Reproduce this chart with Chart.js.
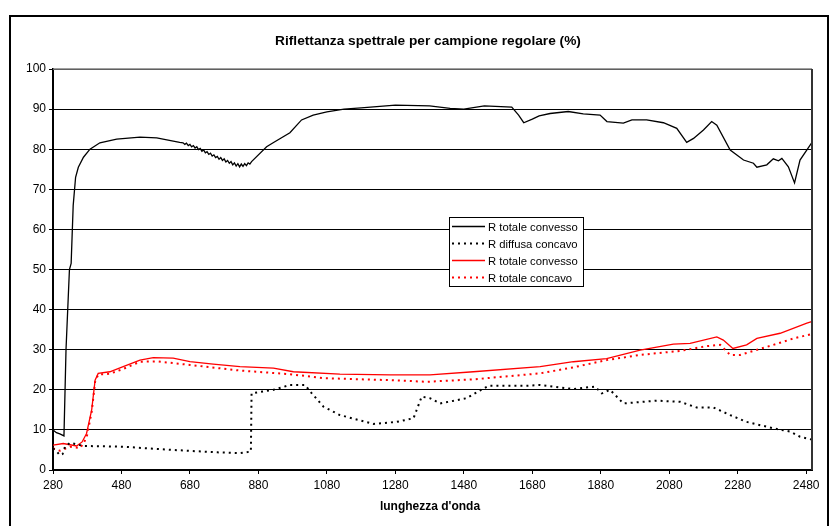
<!DOCTYPE html>
<html>
<head>
<meta charset="utf-8">
<script src="https://cdn.jsdelivr.net/npm/chart.js@4.4.1/dist/chart.umd.min.js"></script>
<style>
  html, body { margin: 0; padding: 0; background: #fff; }
  #wrap { width: 832px; height: 526px; }
</style>
</head>
<body>
<div id="wrap"><canvas id="chart" width="832" height="526"></canvas></div>
<script>
// valori (lunghezza d'onda in nm, riflettanza in %)
const xTicks = [280, 480, 680, 880, 1080, 1280, 1480, 1680, 1880, 2080, 2280, 2480];

const totConvBlackX = [280, 290, 300, 312, 318, 328, 333, 339, 346, 354, 369, 388, 417, 466, 534, 583, 620, 650,
  660, 665, 670, 675, 680, 685, 690, 695, 700, 705, 710, 715, 720, 725, 730, 735, 740, 745, 750, 755, 760, 765,
  770, 775, 780, 785, 790, 795, 800, 805, 810, 815, 820, 825, 830, 835, 840, 845, 850, 855, 860,
  904, 923, 972, 1006, 1040, 1080, 1130, 1180, 1280, 1380, 1440, 1480, 1540, 1620, 1640, 1655, 1680, 1700,
  1732, 1785, 1829, 1878, 1898, 1946, 1971, 2014, 2063, 2102, 2131, 2151, 2180, 2204, 2219, 2258, 2297,
  2326, 2336, 2365, 2384, 2399, 2409, 2428, 2446, 2462, 2496];
const totConvBlackY = [10, 9.3, 9, 8.5, 30, 50, 51.5, 66, 73, 75.5, 78, 80, 81.6, 82.5, 83, 82.8, 82.2, 81.7,
  81.6, 81.2, 81.5, 80.9, 81.2, 80.6, 80.9, 80.3, 80.6, 79.9, 80.2, 79.5, 79.8, 79.1, 79.4, 78.7, 79.0, 78.3, 78.6, 77.9, 78.2, 77.5,
  77.9, 77.2, 77.6, 76.8, 77.2, 76.5, 76.9, 76.1, 76.6, 75.8, 76.4, 75.6, 76.3, 75.7, 76.4, 75.9, 76.6, 76.3, 76.9,
  80.6, 81.6, 84.1, 87.3, 88.5, 89.3, 90, 90.3, 91, 90.8, 90.2, 90, 90.8, 90.5, 88.5, 86.6, 87.5, 88.3,
  88.9, 89.4, 88.8, 88.5, 86.9, 86.5, 87.3, 87.3, 86.6, 85.2, 81.7, 82.7, 84.8, 86.9, 86, 79.8, 77.3,
  76.5, 75.5, 76.1, 77.6, 77.1, 77.7, 75.6, 71.6, 77.3, 81.6];

const diffConcX = [280, 292, 300, 308, 315, 330, 369, 485, 631, 760, 826, 858, 860, 924, 972, 1016, 1036, 1070,
  1118, 1216, 1284, 1333, 1357, 1381, 1411, 1488, 1527, 1552, 1664, 1703, 1800, 1863, 1883, 1907, 1946,
  2044, 2112, 2160, 2209, 2258, 2306, 2384, 2433, 2462, 2496];
const diffConcY = [5.4, 4.5, 3.7, 4, 5.8, 6.8, 6, 5.8, 5, 4.4, 4.2, 4.6, 19.1, 20, 21.2, 21.2, 19.1, 15.8,
  13.7, 11.5, 12, 12.9, 18.3, 17.9, 16.6, 17.9, 19.8, 21, 21, 21.2, 20.2, 20.8, 19.1, 20, 16.6,
  17.3, 17, 15.6, 15.6, 13.7, 12, 10.4, 9.6, 8.3, 7.6];

const totConvRedX = [280, 310, 349, 365, 378, 393, 403, 412, 446, 485, 534, 573, 631, 680, 748, 826, 924, 982,
  1118, 1265, 1381, 1508, 1703, 1800, 1897, 1995, 2092, 2141, 2219, 2238, 2266, 2306, 2336, 2404, 2482, 2496];
const totConvRedY = [6.2, 6.6, 6, 7, 9.1, 15, 22.4, 24.1, 24.5, 25.8, 27.4, 28, 27.9, 27, 26.4, 25.8, 25.4, 24.5,
  23.9, 23.7, 23.7, 24.5, 25.8, 27, 27.8, 29.9, 31.4, 31.6, 33.2, 32.4, 30.3, 31.2, 32.8, 34.1, 36.6, 37];

const totConcRedX = [280, 300, 330, 360, 378, 393, 403, 412, 446, 485, 534, 583, 680, 826, 972, 1070, 1265, 1372,
  1508, 1703, 1800, 1897, 1995, 2112, 2190, 2229, 2258, 2287, 2384, 2443, 2496];
const totConcRedY = [5.4, 4.8, 5.8, 5.5, 8, 14.5, 22, 23.8, 24, 25.2, 27, 27.1, 26.2, 24.8, 23.9, 22.9, 22.4, 22,
  22.6, 24.1, 25.6, 27.4, 28.7, 29.7, 30.9, 31.2, 28.7, 28.7, 31.2, 32.8, 33.9];

function pts(xs, ys) {
  return xs.map((x, i) => ({ x: x, y: ys[i] }));
}

const FONT = 'Arial, "Liberation Sans", sans-serif';

const framePlugin = {
  id: 'frame',
  beforeDraw(chart) {
    const ctx = chart.ctx;
    ctx.save();
    ctx.fillStyle = '#fff';
    ctx.fillRect(0, 0, chart.width, chart.height);
    ctx.strokeStyle = '#000';
    ctx.lineWidth = 2;
    ctx.strokeRect(10, 16, 818, 530);
    ctx.restore();
  },
  afterDraw(chart) {
    const ctx = chart.ctx;
    const a = chart.chartArea;
    ctx.save();
    // bordo area del grafico
    ctx.strokeStyle = '#808080';
    ctx.lineWidth = 1.5;
    ctx.beginPath();
    ctx.moveTo(a.left, a.top);
    ctx.lineTo(a.right, a.top);
    ctx.stroke();
    ctx.strokeStyle = '#333';
    ctx.lineWidth = 2;
    ctx.beginPath();
    ctx.moveTo(a.right, a.top);
    ctx.lineTo(a.right, a.bottom);
    ctx.stroke();

    // titoli
    ctx.fillStyle = '#000';
    ctx.textAlign = 'center';
    ctx.textBaseline = 'middle';
    ctx.font = 'bold 13.7px ' + FONT;
    ctx.fillText('Riflettanza spettrale per campione regolare (%)', 428, 41);
    ctx.font = 'bold 12px ' + FONT;
    ctx.fillText("lunghezza d'onda", 430, 507);

    // legenda
    const lx = 449, ly = 217, lw = 134, lh = 69;
    ctx.fillStyle = '#fff';
    ctx.fillRect(lx, ly, lw, lh);
    ctx.strokeStyle = '#000';
    ctx.lineWidth = 1;
    ctx.strokeRect(lx + 0.5, ly + 0.5, lw, lh);
    ctx.font = '11.3px ' + FONT;
    ctx.textAlign = 'left';
    chart.data.datasets.forEach((ds, i) => {
      const y = ly + 9.5 + i * 17;
      ctx.strokeStyle = ds.borderColor;
      ctx.lineWidth = ds.borderWidth;
      ctx.setLineDash(ds.borderDash || []);
      ctx.beginPath();
      ctx.moveTo(lx + 3, y);
      ctx.lineTo(lx + 36, y);
      ctx.stroke();
      ctx.setLineDash([]);
      ctx.fillStyle = '#000';
      ctx.fillText(ds.label, lx + 39, y + 1);
    });
    ctx.restore();
  }
};

new Chart(document.getElementById('chart'), {
  type: 'line',
  data: {
    datasets: [
      { label: 'R totale convesso', data: pts(totConvBlackX, totConvBlackY), borderColor: '#000', borderWidth: 1.3 },
      { label: 'R diffusa concavo', data: pts(diffConcX, diffConcY), borderColor: '#000', borderWidth: 2, borderDash: [2, 4] },
      { label: 'R totale convesso', data: pts(totConvRedX, totConvRedY), borderColor: '#ff0000', borderWidth: 1.3 },
      { label: 'R totale concavo', data: pts(totConcRedX, totConcRedY), borderColor: '#ff0000', borderWidth: 2, borderDash: [2, 4] }
    ]
  },
  options: {
    responsive: false,
    animation: false,
    events: [],
    elements: { point: { radius: 0 }, line: { tension: 0, fill: false } },
    layout: { padding: { top: 69, right: 20, left: 0, bottom: 0 } },
    plugins: { legend: { display: false }, title: { display: false }, tooltip: { enabled: false } },
    scales: {
      x: {
        type: 'linear',
        min: 280,
        max: 2497,
        afterBuildTicks: axis => { axis.ticks = xTicks.map(v => ({ value: v })); },
        afterFit: scale => { scale.height = 56; },
        ticks: { color: '#000', font: { family: FONT, size: 12 }, maxRotation: 0, autoSkip: false, padding: 4, callback: v => String(v) },
        grid: { drawOnChartArea: false, drawTicks: true, tickLength: 4, color: '#000' },
        border: { color: '#000', width: 2 }
      },
      y: {
        min: 0,
        max: 100,
        afterFit: scale => { scale.width = 53; },
        ticks: { stepSize: 10, color: '#000', font: { family: FONT, size: 12 }, padding: 3 },
        grid: { color: '#000', lineWidth: 1, tickLength: 4 },
        border: { color: '#000', width: 2 }
      }
    }
  },
  plugins: [framePlugin]
});
</script>
</body>
</html>
